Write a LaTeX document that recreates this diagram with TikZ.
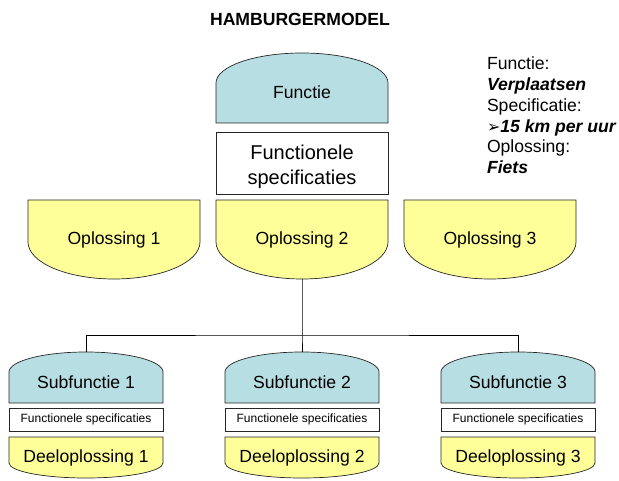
\documentclass[tikz,border=0pt]{standalone}
\usepackage{fontspec}
\setmainfont{Liberation Sans}
\newfontfamily\dingfont{DejaVu Sans}
\usetikzlibrary {backgrounds,
                 calc,
                 positioning}
\definecolor{bunblue}{RGB}{183,222,226}
\definecolor{bunyellow}{RGB}{255,255,153}
\tikzset{
        base/.style={inner sep=0pt, outer sep=0pt,
                     font=\fontsize{17.6}{21}\selectfont},
        dome/.style={base, text height=22pt, text depth=0pt},
        bowl/.style={base},
        bigbun/.style={minimum width=172pt},
        subbun/.style={minimum width=154pt},
        specbox/.style={base, draw=black!85, fill=white, line width=0.7pt,
                        align=center},
        domefill/.style={fill=bunblue, draw=black!85, line width=0.7pt},
        bowlfill/.style={fill=bunyellow, draw=black!85, line width=0.7pt},
        wire/.style={line width=0.7pt},
 }

\begin{document}
\begin{tikzpicture}[x=1pt, y=1pt]
    \useasboundingbox (0,0) rectangle (619,480);
    \node[base, font=\fontsize{17.6}{21}\selectfont\bfseries] (title) at (300,461) {HAMBURGERMODEL};

    % bovenste hamburger
    \node[dome, bigbun, minimum height=70pt] (func) at (302,392) {Functie};
    \node[specbox, bigbun, minimum height=62pt, font=\fontsize{20}{25}\selectfont,
          below=9pt of func] (spec) {\rule{0pt}{22.5pt}Functionele\\specificaties};
    \node[bowl, bigbun, minimum height=79pt, below=6pt of spec] (opl2) {Oplossing 2};
    \node[bowl, bigbun, minimum height=79pt, left=16pt of opl2] (opl1) {Oplossing 1};
    \node[bowl, bigbun, minimum height=79pt, right=16pt of opl2] (opl3) {Oplossing 3};

    % deelhamburgers
    \node[dome, subbun, minimum height=51pt] (sub2) at (302,102.5) {Subfunctie 2};
    \node[dome, subbun, minimum height=51pt, left=62pt of sub2] (sub1) {Subfunctie 1};
    \node[dome, subbun, minimum height=51pt, right=62pt of sub2] (sub3) {Subfunctie 3};
    \foreach \i in {1,2,3} {
        \node[specbox, subbun, minimum height=23pt, font=\fontsize{12}{14}\selectfont,
              below=5pt of sub\i] (fs\i) {Functionele specificaties};
        \node[bowl, subbun, minimum height=41pt, below=6pt of fs\i] (deel\i) {Deeloplossing \i};
    }

    \node[base, anchor=north west, align=left, font=\fontsize{17.6}{20.8}\selectfont]
        (notes) at (487,423)
        {Functie:\\
         \textbf{\textit{Verplaatsen}}\\
         Specificatie:\\
         {\dingfont\fontsize{16}{16}\selectfont ➢}\textbf{\textit{15 km per uur}}\\
         Oplossing:\\
         \textbf{\textit{Fiets}}};

    % verbindingen
    \coordinate[below=56pt of opl2.south] (split);
    \draw[wire] (opl2.south) -- (split) -- (sub2.north);
    \draw[wire] (sub1.north) |- (split) -| (sub3.north);

    \begin{scope}[on background layer]
        \foreach \n/\rx/\ry in {func/86/30, sub1/77/20, sub2/77/20, sub3/77/20}
            \filldraw[domefill] (\n.south west) -- ($(\n.north west)+(0,-\ry)$)
                arc[start angle=180, end angle=0, x radius=\rx pt, y radius=\ry pt]
                -- (\n.south east) -- cycle;
        \foreach \n/\rx/\ry in {opl1/86/37, opl2/86/37, opl3/86/37,
                                deel1/77/15, deel2/77/15, deel3/77/15}
            \filldraw[bowlfill] (\n.north west) -- ($(\n.south west)+(0,\ry)$)
                arc[start angle=180, end angle=360, x radius=\rx pt, y radius=\ry pt]
                -- (\n.north east) -- cycle;
    \end{scope}
\end{tikzpicture}
\end{document}
